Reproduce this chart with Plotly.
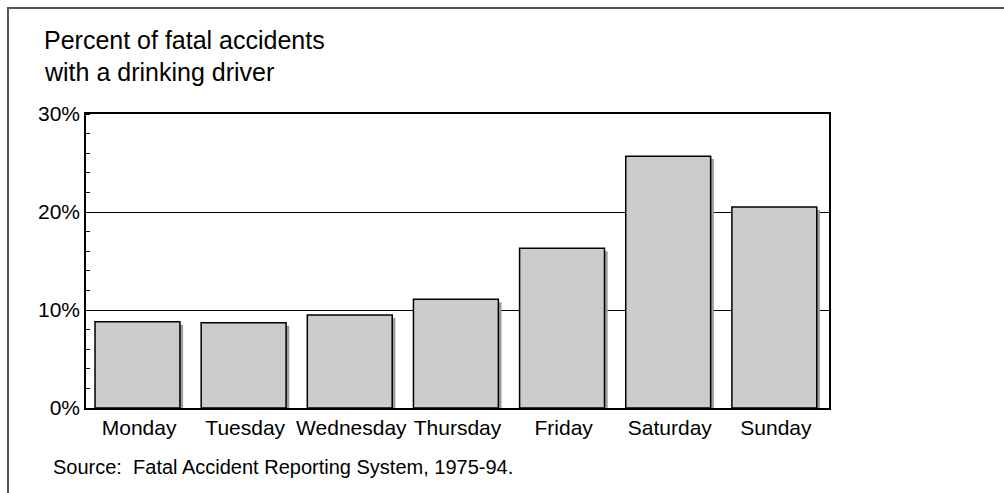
import plotly.graph_objects as go

# ---- data ----
days = ["Monday", "Tuesday", "Wednesday", "Thursday", "Friday", "Saturday", "Sunday"]
pct_drinking = [8.8, 8.7, 9.5, 11.1, 16.3, 25.7, 20.5]
y_ticks = [0, 10, 20, 30]
y_tick_labels = ["0%", "10%", "20%", "30%"]

title_line1 = "Percent of fatal accidents"
title_line2 = "with a drinking driver"
source_text = "Source:&nbsp; Fatal Accident Reporting System, 1975-94."

FONT = "Liberation Sans, Arial, sans-serif"

# geometry (pixels) used for placing paper-referenced items
W, H = 1004, 493
ML, MR, MT, MB = 86, 175, 114, 85
PW = W - ML - MR
PH = H - MT - MB


def px_x(x):
    return (x - ML) / PW


def px_y(y):
    return (H - MB - y) / PH


shadow_heights = [v - 0.3 for v in pct_drinking]

fig = go.Figure()
# drop shadow behind each bar
fig.add_trace(go.Bar(
    x=days, y=shadow_heights, width=0.8, offset=-0.385,
    marker=dict(color="#9e9e9e", line=dict(width=0)),
    hoverinfo="skip", showlegend=False,
))
# main bars
fig.add_trace(go.Bar(
    x=days, y=pct_drinking, width=0.8, offset=-0.415,
    marker=dict(color="#cccccc", line=dict(color="#000000", width=1.5)),
    showlegend=False,
))

fig.update_layout(
    width=W, height=H,
    margin=dict(l=ML, r=MR, t=MT, b=MB, pad=0),
    paper_bgcolor="white", plot_bgcolor="white",
    barmode="overlay",
    font=dict(family=FONT, color="black"),
    xaxis=dict(
        type="category", range=[-0.5, 6.5],
        showgrid=False, showline=True, linecolor="black", linewidth=2,
        mirror=True, ticks="", tickfont=dict(size=21, family=FONT, color="black"),
        fixedrange=True,
    ),
    yaxis=dict(
        range=[0, 30], tickvals=y_ticks, ticktext=y_tick_labels,
        showgrid=True, gridcolor="black", gridwidth=1,
        showline=True, linecolor="black", linewidth=1.5, mirror=True,
        ticks="", tickfont=dict(size=21, family=FONT, color="black"),
        minor=dict(dtick=2, ticks="inside", ticklen=4, tickcolor="black",
                   tickwidth=1, showgrid=False),
        zeroline=False, fixedrange=True,
    ),
    annotations=[
        dict(text=title_line1, xref="paper", yref="paper", x=px_x(42), y=px_y(40),
             xanchor="left", yanchor="middle", showarrow=False,
             font=dict(size=25, family=FONT, color="black")),
        dict(text=title_line2, xref="paper", yref="paper", x=px_x(42), y=px_y(72),
             xanchor="left", yanchor="middle", showarrow=False,
             font=dict(size=25, family=FONT, color="black")),
        dict(text=source_text, xref="paper", yref="paper", x=px_x(51), y=px_y(467),
             xanchor="left", yanchor="middle", showarrow=False,
             font=dict(size=20, family=FONT, color="black")),
    ],
    shapes=[
        dict(type="rect", xref="paper", yref="paper",
             x0=px_x(8), y0=px_y(520), x1=px_x(1030), y1=px_y(8),
             line=dict(color="#555555", width=2), fillcolor="rgba(0,0,0,0)",
             layer="above"),
    ],
)

fig.write_html("out.html", config={"displayModeBar": False},
               post_script="document.body.style.margin='0';")
